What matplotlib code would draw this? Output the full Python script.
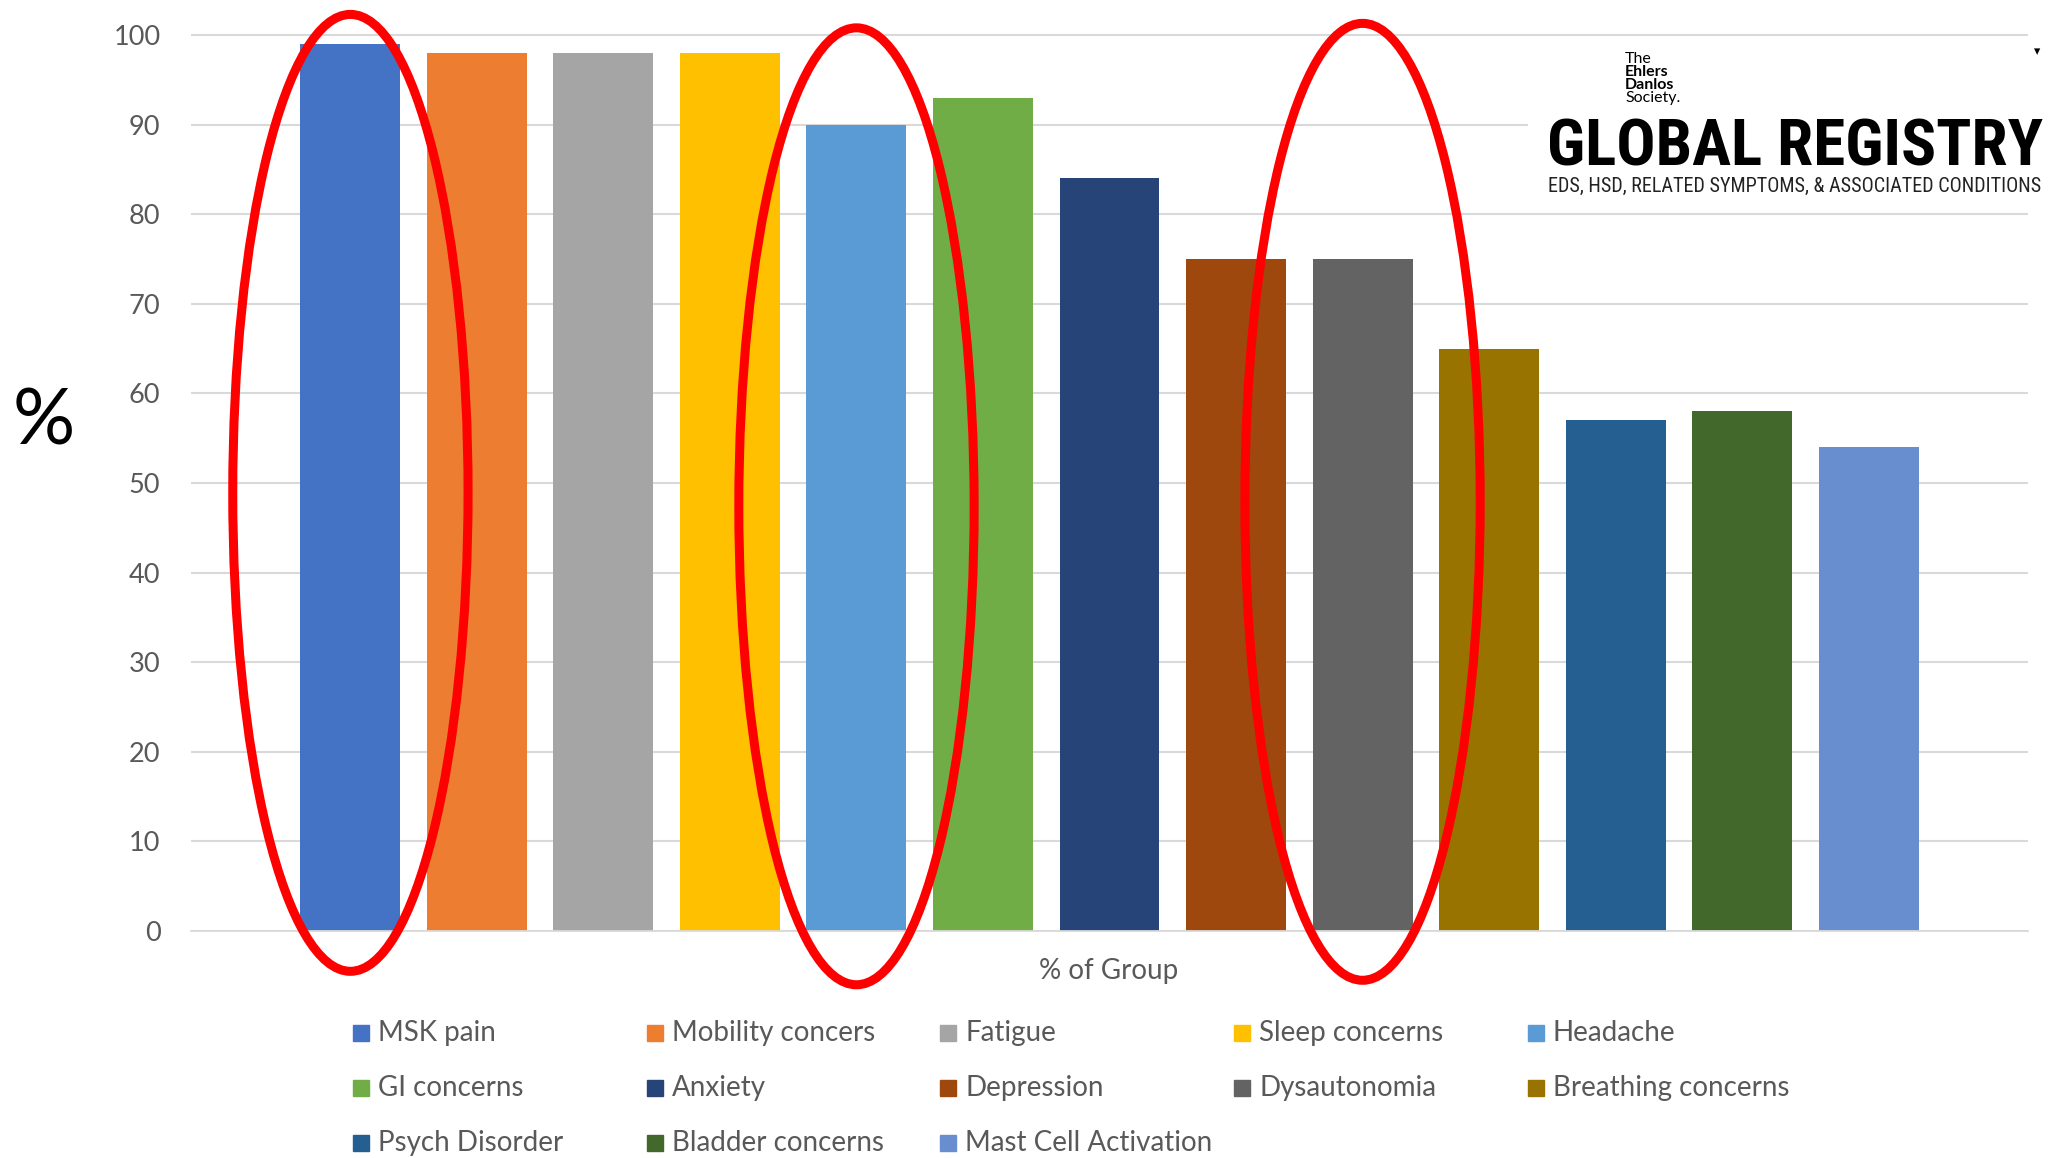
import numpy as np
import matplotlib
matplotlib.use("Agg")
import matplotlib.pyplot as plt
from matplotlib.patches import Ellipse, Rectangle

# dados
categorias = ["MSK pain", "Mobility concers", "Fatigue", "Sleep concerns", "Headache",
              "GI concerns", "Anxiety", "Depression", "Dysautonomia", "Breathing concerns",
              "Psych Disorder", "Bladder concerns", "Mast Cell Activation"]
valores = [99, 98, 98, 98, 90, 93, 84, 75, 75, 65, 57, 58, 54]
cores = ["#4472C4", "#ED7D31", "#A5A5A5", "#FFC000", "#5B9BD5", "#70AD47", "#264478",
         "#9E480E", "#636363", "#997300", "#255E91", "#43682B", "#698ED0"]
destaques = [0, 4, 8]  # barras circuladas em vermelho

W, H = 2051, 1158
plt.rcParams['font.family'] = ['Lato', 'DejaVu Sans']

fig = plt.figure(figsize=(W / 100, H / 100), dpi=100)


def fx(px):
    return px / W


def fy(py):
    return 1 - py / H


ax = fig.add_axes([fx(191), fy(931), (2028 - 191) / W, (931 - 17.1) / H])
x = np.arange(len(categorias))
ax.bar(x, valores, width=0.79, color=cores, zorder=2)
ax.set_xlim(-1.26, 13.26)
ax.set_ylim(0, 102)
ax.set_yticks(range(0, 101, 10))
ax.set_xticks([])
ax.yaxis.grid(True, color='#D9D9D9', lw=1.5)
ax.set_axisbelow(True)
for s in ['top', 'right', 'left']:
    ax.spines[s].set_visible(False)
ax.spines['bottom'].set_color('#D9D9D9')
ax.spines['bottom'].set_linewidth(1.3)
ax.tick_params(axis='y', length=0, pad=22, labelsize=19.5, labelcolor='#595959')

# elipses vermelhas
centros_y = [48.9, 47.4, 47.9]
for i, cy in zip(destaques, centros_y):
    ax.add_patch(Ellipse((i, cy), 1.86, 106.8, fill=False, ec='#FF0000', lw=6.5,
                         clip_on=False, zorder=3))

fig.text(fx(1109), fy(971), '% of Group', ha='center', va='center', fontsize=20, color='#595959')
fig.text(fx(44), fy(423), '%', ha='center', va='center', fontsize=56, color='black')

# legenda estilo Excel (linha por linha)
for i, (nome, c) in enumerate(zip(categorias, cores)):
    lin, col = divmod(i, 5)
    xm = 353 + col * 293.7
    ym = 1033 + lin * 55
    fig.patches.append(Rectangle((fx(xm), fy(ym + 8)), 16 / W, 16 / H,
                                 transform=fig.transFigure, color=c))
    fig.text(fx(xm + 25), fy(ym), nome, va='center', fontsize=20, color='#595959')

# logo
fig.patches.append(Rectangle((fx(1528), fy(205)), (W - 1528) / W, (205 - 42) / H,
                             transform=fig.transFigure, fc='white', ec='none', zorder=5))
for txt, yb, peso in [("The", 63, 'normal'), ("Ehlers", 76, 'bold'),
                      ("Danlos", 89, 'bold'), ("Society.", 102, 'normal')]:
    fig.text(fx(1625), fy(yb), txt, fontsize=11.5, fontweight=peso, va='baseline', zorder=6)

estreita = ['Roboto Condensed', 'DejaVu Sans Condensed', 'Roboto']
t1 = fig.text(fx(1547), fy(166), 'GLOBAL REGISTRY', fontsize=40, fontweight='black',
              family=estreita, fontstretch='condensed', va='baseline', zorder=6)
t2 = fig.text(fx(1548), fy(192), 'EDS, HSD, RELATED SYMPTOMS, & ASSOCIATED CONDITIONS',
              fontsize=12, family=estreita, fontstretch='condensed', va='baseline',
              color='#222222', zorder=6)
# ajusta o tamanho para caber na largura do logo
r = fig.canvas.get_renderer()
for t, larg in [(t1, 495), (t2, 493)]:
    w = t.get_window_extent(renderer=r).width
    t.set_fontsize(t.get_fontsize() * larg / w)

fig.text(fx(2037), fy(52), '▾', fontsize=9, family=['DejaVu Sans'], ha='center', va='center', zorder=6)

fig.savefig("out.png", dpi=100)
